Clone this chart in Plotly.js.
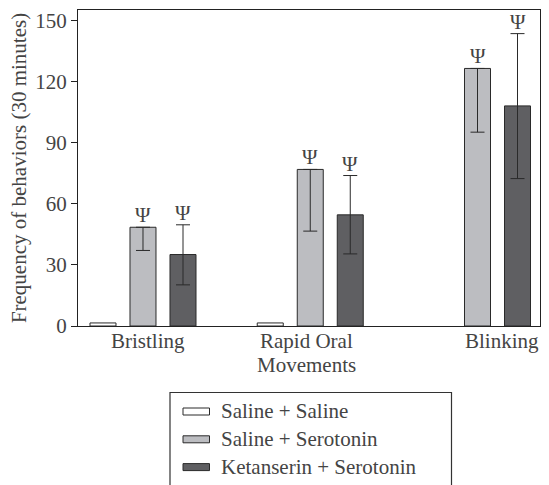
<!DOCTYPE html>
<html>
<head>
<meta charset="utf-8">
<script src="https://cdn.plot.ly/plotly-3.0.1.min.js"></script>
<style>
html,body{margin:0;padding:0;background:#fff;}
#chart{width:549px;height:485px;}
</style>
</head>
<body>
<div id="chart"></div>
<script>
// ---- data ----
var categories = ["Bristling", "Rapid Oral<br>Movements", "Blinking"];
var seriesNames = ["Saline + Saline", "Saline + Serotonin", "Ketanserin + Serotonin"];
var salineSaline = [1.5, 1.5, null];
var salineSerotonin = [48.5, 76.9, 126.5];
var salineSerotoninErrPlus = [0, 0, 0];
var salineSerotoninErrMinus = [11.4, 30.3, 31.3];
var ketanserinSerotonin = [35.1, 54.6, 108.1];
var ketanserinSerotoninErrPlus = [14.6, 19.3, 35.5];
var ketanserinSerotoninErrMinus = [14.9, 19.2, 35.7];
var significant = [[false,false,false],[true,true,true],[true,true,true]];
var sigMark = "\u03A8";
var yTicks = [0, 30, 60, 90, 120, 150];
var catLabelPos = [0.03, 0.978, 2.145];

// ---- styles ----
var fills = ["#ffffff", "#bcbdc1", "#5f5f62"];
var edge = "#2a2a2a";
var FONT = "Times New Roman";
var TXT = "#222222";
var W = 549, H = 485, ML = 78, MR = 9, MT = 10, MB = 159;
var BARGAP = 0.2825, GROUPGAP = 0.35;
var nSeries = 3;
var slot = (1 - BARGAP) / nSeries;

function px(x){ return (x - ML) / (W - ML - MR); }
function py(y){ return (H - MB - y) / (H - MT - MB); }

var xIdx = categories.map(function(_, i){ return i; });
var values = [salineSaline, salineSerotonin, ketanserinSerotonin];
var errPlus = [null, salineSerotoninErrPlus, ketanserinSerotoninErrPlus];
var errMinus = [null, salineSerotoninErrMinus, ketanserinSerotoninErrMinus];

var traces = values.map(function(v, s){
  var t = {
    type: "bar", x: xIdx, y: v, name: seriesNames[s],
    marker: {color: fills[s], line: {color: edge, width: 1}},
    showlegend: false, hoverinfo: "none"
  };
  if (errPlus[s]) {
    t.error_y = {type: "data", symmetric: false, array: errPlus[s], arrayminus: errMinus[s],
                 color: edge, thickness: 1, width: 7};
  }
  return t;
});

var annotations = [];
values.forEach(function(v, s){
  v.forEach(function(val, i){
    if (significant[s][i] && val !== null) {
      var top = val + (errPlus[s] ? errPlus[s][i] : 0);
      annotations.push({x: i + (s - (nSeries - 1) / 2) * slot, y: top, xref: "x", yref: "y",
        text: sigMark, showarrow: false, yanchor: "middle", yshift: 12,
        font: {family: FONT, size: 21}});
    }
  });
});

categories.forEach(function(c, i){
  c.split("<br>").forEach(function(line, k){
    annotations.push({x: catLabelPos[i], xref: "x", yref: "paper", y: py(341 + k * 23.5),
      xanchor: "center", yanchor: "middle", text: line, showarrow: false,
      font: {family: FONT, size: 21}});
  });
});

var shapes = [{type: "rect", xref: "paper", yref: "paper",
  x0: px(170), x1: px(451.5), y0: py(392.5), y1: py(500),
  line: {color: "#333333", width: 1.2}, fillcolor: "rgba(0,0,0,0)"}];
seriesNames.forEach(function(n, s){
  var cy = 411.5 + s * 27.8;
  shapes.push({type: "rect", xref: "paper", yref: "paper",
    x0: px(183), x1: px(209.5), y0: py(cy - 3.5), y1: py(cy + 3.5),
    line: {color: edge, width: 1}, fillcolor: fills[s]});
  annotations.push({xref: "paper", yref: "paper", x: px(219), y: py(cy),
    xanchor: "left", yanchor: "middle", text: n, showarrow: false,
    font: {family: FONT, size: 21}});
});

var layout = {
  width: W, height: H,
  margin: {l: ML, r: MR, t: MT, b: MB},
  paper_bgcolor: "#ffffff", plot_bgcolor: "#ffffff",
  barmode: "group", bargap: BARGAP, bargroupgap: GROUPGAP,
  showlegend: false,
  xaxis: {
    range: [-0.3886, 2.3737], showticklabels: false,
    ticks: "", showgrid: false, zeroline: false, showline: true, mirror: true,
    linecolor: TXT, linewidth: 1
  },
  yaxis: {
    range: [0, 155.2], tickmode: "array", tickvals: yTicks, ticks: "outside", ticklen: 6,
    tickcolor: TXT, showgrid: false, zeroline: false, showline: true, mirror: true,
    linecolor: TXT, linewidth: 1, tickfont: {family: FONT, size: 21},
    title: {text: "Frequency of behaviors (30 minutes)", font: {family: FONT, size: 21}, standoff: 2}
  },
  annotations: annotations,
  shapes: shapes
};

Plotly.newPlot("chart", traces, layout, {displayModeBar: false});
</script>
</body>
</html>
